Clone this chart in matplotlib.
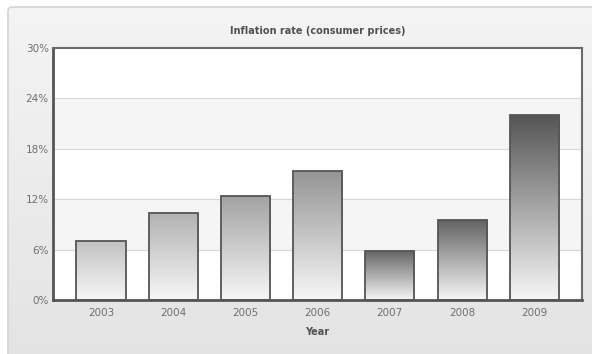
import numpy as np
import matplotlib.pyplot as plt
from matplotlib.patches import FancyBboxPatch
from matplotlib.colors import LinearSegmentedColormap

# data
years = ['2003', '2004', '2005', '2006', '2007', '2008', '2009']
inflation = [7.0, 10.3, 12.4, 15.4, 5.8, 9.5, 22.0]
top_colors = ['#c2c2c2', '#b2b2b2', '#a2a2a2', '#949494', '#656565', '#636363', '#555555']
y_ticks = [0, 6, 12, 18, 24, 30]

W, H = 592, 354
fig = plt.figure(figsize=(W / 100, H / 100), dpi=100)
fig.patch.set_facecolor('white')

# outer panel with soft vertical gradient
bg = fig.add_axes([0, 0, 1, 1], zorder=0)
bg.set_xlim(0, W)
bg.set_ylim(H, 0)
bg.axis('off')
grad = np.linspace(0, 1, 256).reshape(-1, 1)
bg_cmap = LinearSegmentedColormap.from_list('bg', ['#f4f4f4', '#e3e3e3'])
frame = FancyBboxPatch((8, 7), W + 10, H + 10, boxstyle='round,pad=0,rounding_size=4',
                       facecolor='none', edgecolor='#d4d4d4', lw=1.2)
bg.add_patch(frame)
img = bg.imshow(grad, cmap=bg_cmap, extent=(8, W + 18, H + 17, 7), aspect='auto')
img.set_clip_path(frame)

# plot area: x 53..582, y 48..300 px
ax = fig.add_axes([53 / W, 1 - 300 / H, (582 - 53) / W, (300 - 48) / H], zorder=1)
ax.set_facecolor('white')
x = np.arange(len(years))
ax.set_xlim(-0.664, 6.66)
ax.set_ylim(0, 30)

# alternating bands + grid lines
for lo in (6, 18):
    ax.axhspan(lo, lo + 6, color='#f5f5f5', zorder=0)
for t in y_ticks[1:-1]:
    ax.axhline(t, color='#d8d8d8', lw=0.8, zorder=0.5)

bars = ax.bar(x, inflation, width=0.68, facecolor='none', edgecolor='#555555', lw=1.3, zorder=3)
for b, c in zip(bars, top_colors):
    cmap = LinearSegmentedColormap.from_list('g', ['#f7f7f7', c])
    x0, w, h = b.get_x(), b.get_width(), b.get_height()
    im = ax.imshow(grad, cmap=cmap, origin='lower', extent=(x0, x0 + w, 0, h),
                   aspect='auto', zorder=2)
    im.set_clip_path(b)
ax.set_aspect('auto')

ax.set_xticks(x)
ax.set_xticklabels(years)
ax.set_yticks(y_ticks)
ax.set_yticklabels([f'{t}%' for t in y_ticks])
ax.tick_params(length=0, labelsize=7.5, colors='#707070', pad=6)
ax.tick_params(axis='y', pad=3)

for side in ('left', 'bottom'):
    ax.spines[side].set_color('#555555')
    ax.spines[side].set_linewidth(2)
for side in ('top', 'right'):
    ax.spines[side].set_color('#6a6a6a')
    ax.spines[side].set_linewidth(1.5)

fig.text(318 / W, 1 - 31 / H, 'Inflation rate (consumer prices)', ha='center', va='center',
         fontsize=7, fontweight='bold', color='#505050')
fig.text(317 / W, 1 - 332 / H, 'Year', ha='center', va='center',
         fontsize=7, fontweight='bold', color='#505050')

fig.savefig('out.png', dpi=100)
